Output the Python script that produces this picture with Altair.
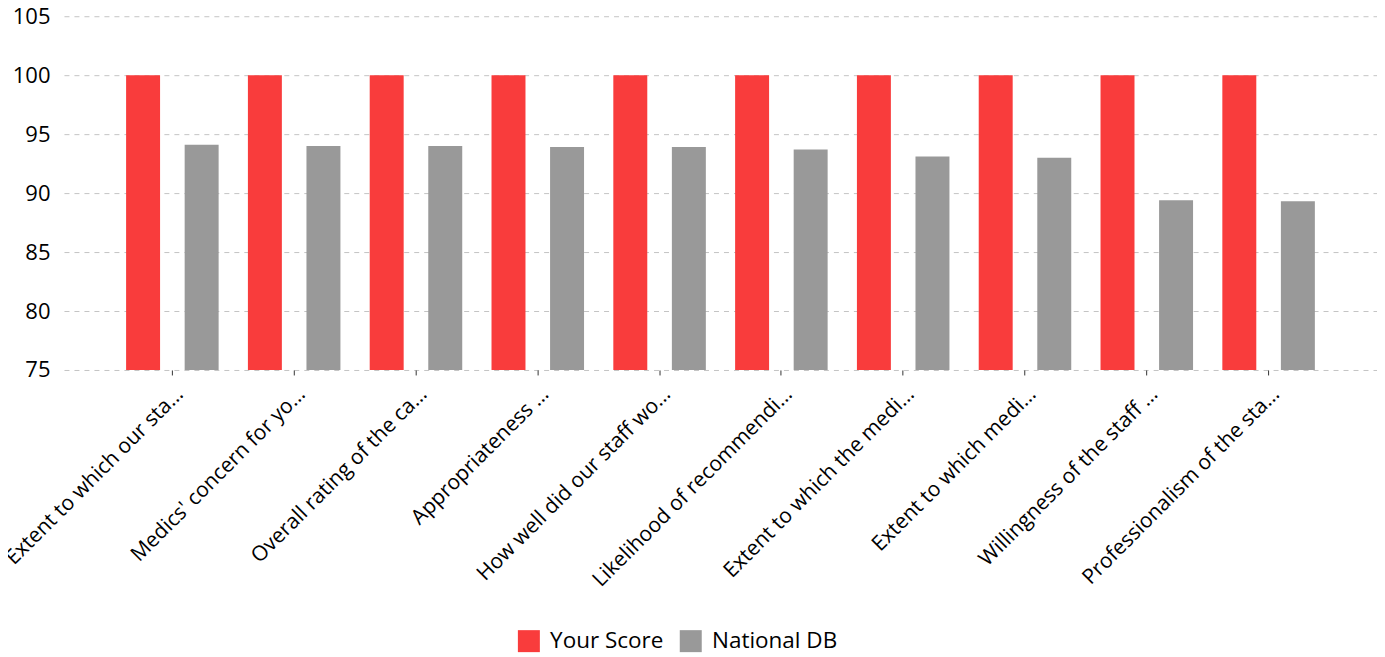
import altair as alt
import pandas as pd

categories = [
    "Extent to which our sta…",
    "Medics' concern for yo…",
    "Overall rating of the ca…",
    "Appropriateness …",
    "How well did our staff wo…",
    "Likelihood of recommendi…",
    "Extent to which the medi…",
    "Extent to which medi…",
    "Willingness of the staff …",
    "Professionalism of the sta…",
]
your_score = [100, 100, 100, 100, 100, 100, 100, 100, 100, 100]
national_db = [94.1, 94.0, 94.0, 93.9, 93.9, 93.7, 93.1, 93.0, 89.4, 89.3]
series_names = ["Your Score", "National DB"]
series_colors = ["#F93C3C", "#999999"]
y_ticks = [75, 80, 85, 90, 95, 100, 105]

rows = []
for i, c in enumerate(categories):
    rows.append({"Category": c, "Series": series_names[0], "Value": your_score[i]})
    rows.append({"Category": c, "Series": series_names[1], "Value": national_db[i]})
df = pd.DataFrame(rows)

FONT = "Open Sans"

chart = (
    alt.Chart(df)
    .mark_bar()
    .encode(
        x=alt.X(
            "Category:N",
            sort=categories,
            scale=alt.Scale(paddingInner=0, paddingOuter=0.39),
            axis=alt.Axis(
                title=None,
                labelAngle=-45,
                labelFontSize=21,
                labelFont=FONT,
                labelColor="#000000",
                labelLimit=400,
                labelPadding=8,
                tickSize=5,
                tickColor="#333333",
                domain=False,
                grid=False,
            ),
        ),
        xOffset=alt.XOffset(
            "Series:N",
            sort=series_names,
            scale=alt.Scale(paddingInner=0.42, paddingOuter=0.25),
        ),
        y=alt.Y(
            "Value:Q",
            scale=alt.Scale(domain=[75, 105], nice=False, zero=False),
            axis=alt.Axis(
                title=None,
                values=y_ticks,
                labelFontSize=22,
                labelFont=FONT,
                labelColor="#000000",
                labelPadding=14,
                ticks=False,
                domain=False,
                grid=True,
                gridColor="#c4c4c4",
                gridDash=[5, 5],
                gridWidth=1,
            ),
        ),
        y2=alt.datum(75),
        color=alt.Color(
            "Series:N",
            sort=series_names,
            scale=alt.Scale(domain=series_names, range=series_colors),
            legend=alt.Legend(
                title=None,
                orient="none",
                direction="horizontal",
                legendX=454,
                legendY=614,
                symbolType="square",
                symbolSize=484,
                symbolStrokeWidth=0,
                labelFontSize=22.5,
                labelFont=FONT,
                labelColor="#000000",
                labelOffset=10,
                columnPadding=16,
            ),
        ),
    )
    .properties(width=1314, height=354, padding={"top": -3, "left": -7, "right": 0, "bottom": 2})
    .configure_view(stroke=None)
)

chart.save("out.html", embed_options={"renderer": "svg", "actions": False})
